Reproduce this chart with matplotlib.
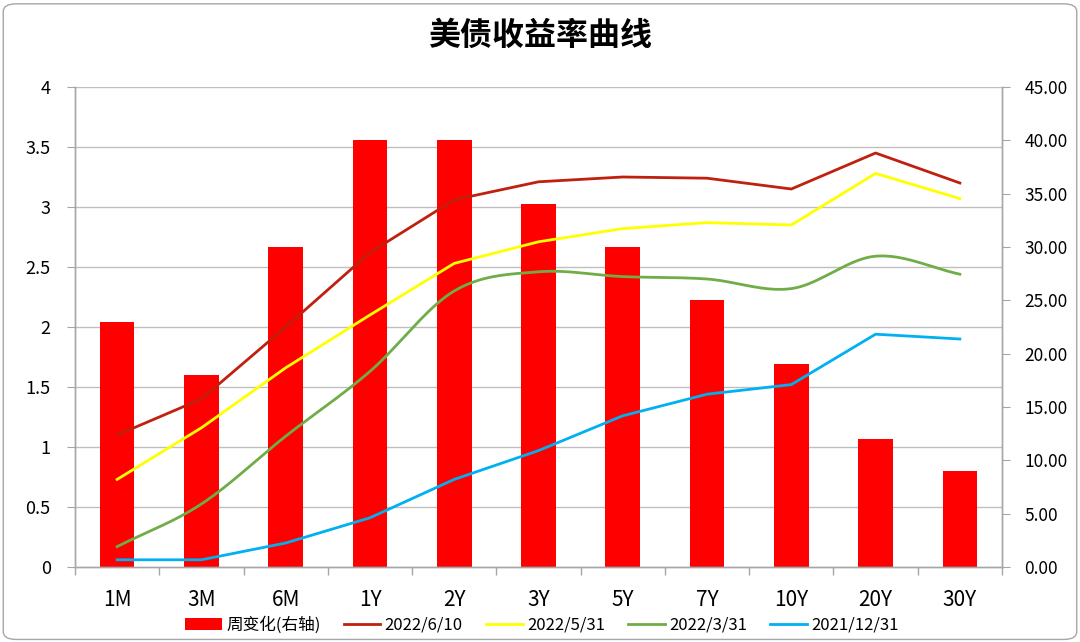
import numpy as np
import matplotlib
matplotlib.use("Agg")
import matplotlib.pyplot as plt
from matplotlib.patches import FancyBboxPatch, Patch
from matplotlib.lines import Line2D

plt.rcParams['font.family'] = ['Noto Sans CJK SC', 'DejaVu Sans']

categories = ["1M", "3M", "6M", "1Y", "2Y", "3Y", "5Y", "7Y", "10Y", "20Y", "30Y"]
weekly_change = [23, 18, 30, 40, 40, 34, 30, 25, 19, 12, 9]
y_20220610 = [1.10, 1.40, 2.00, 2.62, 3.06, 3.21, 3.25, 3.24, 3.15, 3.45, 3.20]
y_20220531 = [0.73, 1.16, 1.66, 2.10, 2.53, 2.71, 2.82, 2.87, 2.85, 3.28, 3.07]
y_20220331 = [0.17, 0.525, 1.09, 1.63, 2.30, 2.46, 2.42, 2.40, 2.32, 2.59, 2.44]
y_20211231 = [0.06, 0.06, 0.20, 0.41, 0.73, 0.97, 1.26, 1.44, 1.52, 1.94, 1.90]
series_names = ["2022/6/10", "2022/5/31", "2022/3/31", "2021/12/31"]
bar_name = "周变化(右轴)"
title = "美债收益率曲线"


def catmull_rom(xs, ys, n=20):
    xs = np.asarray(xs, float)
    ys = np.asarray(ys, float)
    P = np.column_stack([xs, ys])
    P = np.vstack([2 * P[0] - P[1], P, 2 * P[-1] - P[-2]])
    out = []
    t = np.linspace(0, 1, n, endpoint=False)[:, None]
    for i in range(1, len(P) - 2):
        p0, p1, p2, p3 = P[i - 1], P[i], P[i + 1], P[i + 2]
        seg = 0.5 * ((2 * p1) + (-p0 + p2) * t + (2 * p0 - 5 * p1 + 4 * p2 - p3) * t ** 2
                     + (-p0 + 3 * p1 - 3 * p2 + p3) * t ** 3)
        out.append(seg)
    out.append(P[-2][None, :])
    out = np.vstack(out)
    return out[:, 0], out[:, 1]


fig = plt.figure(figsize=(10.8, 6.42), dpi=100)
frame = FancyBboxPatch((0.003, 0.004), 0.994, 0.99, boxstyle="round,pad=0,rounding_size=0.012",
                       transform=fig.transFigure, fill=False, edgecolor="#A6A6A6", linewidth=1.0)
fig.patches.append(frame)

ax = fig.add_axes([75 / 1080, 1 - 567 / 642, (1002 - 75) / 1080, (567 - 87) / 642])
ax2 = ax.twinx()

x = np.arange(len(categories))
ax2.bar(x, weekly_change, width=0.41, color="#FF0000", zorder=1)

ax.set_zorder(ax2.get_zorder() + 1)
ax.patch.set_visible(False)

ax.plot(x, y_20220610, color="#C0200E", linewidth=2.0, zorder=3)
ax.plot(x, y_20220531, color="#FFFF00", linewidth=2.0, zorder=3)
gx, gy = catmull_rom(x, y_20220331)
ax.plot(gx, gy, color="#70AD47", linewidth=2.0, zorder=3)
ax.plot(x, y_20211231, color="#00B0F0", linewidth=2.0, zorder=3)

ax.set_xlim(-0.5, len(categories) - 0.5)
ax.set_ylim(0, 4)
ax2.set_ylim(0, 45)
ax.set_yticks(np.arange(0, 4.01, 0.5))
ax.set_yticklabels(["0", "0.5", "1", "1.5", "2", "2.5", "3", "3.5", "4"])
ax2.set_yticks(np.arange(0, 45.01, 5))
ax2.set_yticklabels([f"{v:.2f}" for v in np.arange(0, 45.01, 5)])

ax.set_xticks(x)
ax.set_xticklabels(categories)
ax.set_xticks(np.arange(-0.5, len(categories), 1), minor=True)
ax.tick_params(axis="x", which="major", length=0, labelsize=15, pad=16)
ax.tick_params(axis="x", which="minor", length=6, color="#A6A6A6", width=1)
ax.tick_params(axis="y", length=5.5, color="#A6A6A6", labelsize=13, pad=12)
ax2.tick_params(axis="y", length=5.5, color="#A6A6A6", labelsize=12.5, pad=10.5)

ax2.yaxis.grid(False)
ax.yaxis.grid(False)

for a in (ax, ax2):
    a.spines["top"].set_visible(False)
    for s in ["left", "right", "bottom"]:
        a.spines[s].set_color("#A6A6A6")
        a.spines[s].set_linewidth(1.0)

for v in np.arange(0.5, 4.01, 0.5):
    ax2.axhline(v * 45 / 4, color="#BFBFBF", linewidth=1.0, zorder=0)

fig.text(0.5, 1 - 36 / 642, title, ha="center", va="center", fontsize=23, fontweight="bold")

handles = [Patch(facecolor="#FF0000", edgecolor="none"),
           Line2D([], [], color="#C0200E", linewidth=2),
           Line2D([], [], color="#FFFF00", linewidth=2),
           Line2D([], [], color="#70AD47", linewidth=2),
           Line2D([], [], color="#00B0F0", linewidth=2)]
labels = [bar_name] + series_names
fig.legend(handles, labels, loc="center", bbox_to_anchor=(542 / 1080, 1 - 625 / 642), ncol=5,
           frameon=False, fontsize=12, handlelength=2.2, handleheight=0.7, columnspacing=1.4,
           handletextpad=0.25, borderpad=0.1)

fig.savefig("out.png", dpi=100)
